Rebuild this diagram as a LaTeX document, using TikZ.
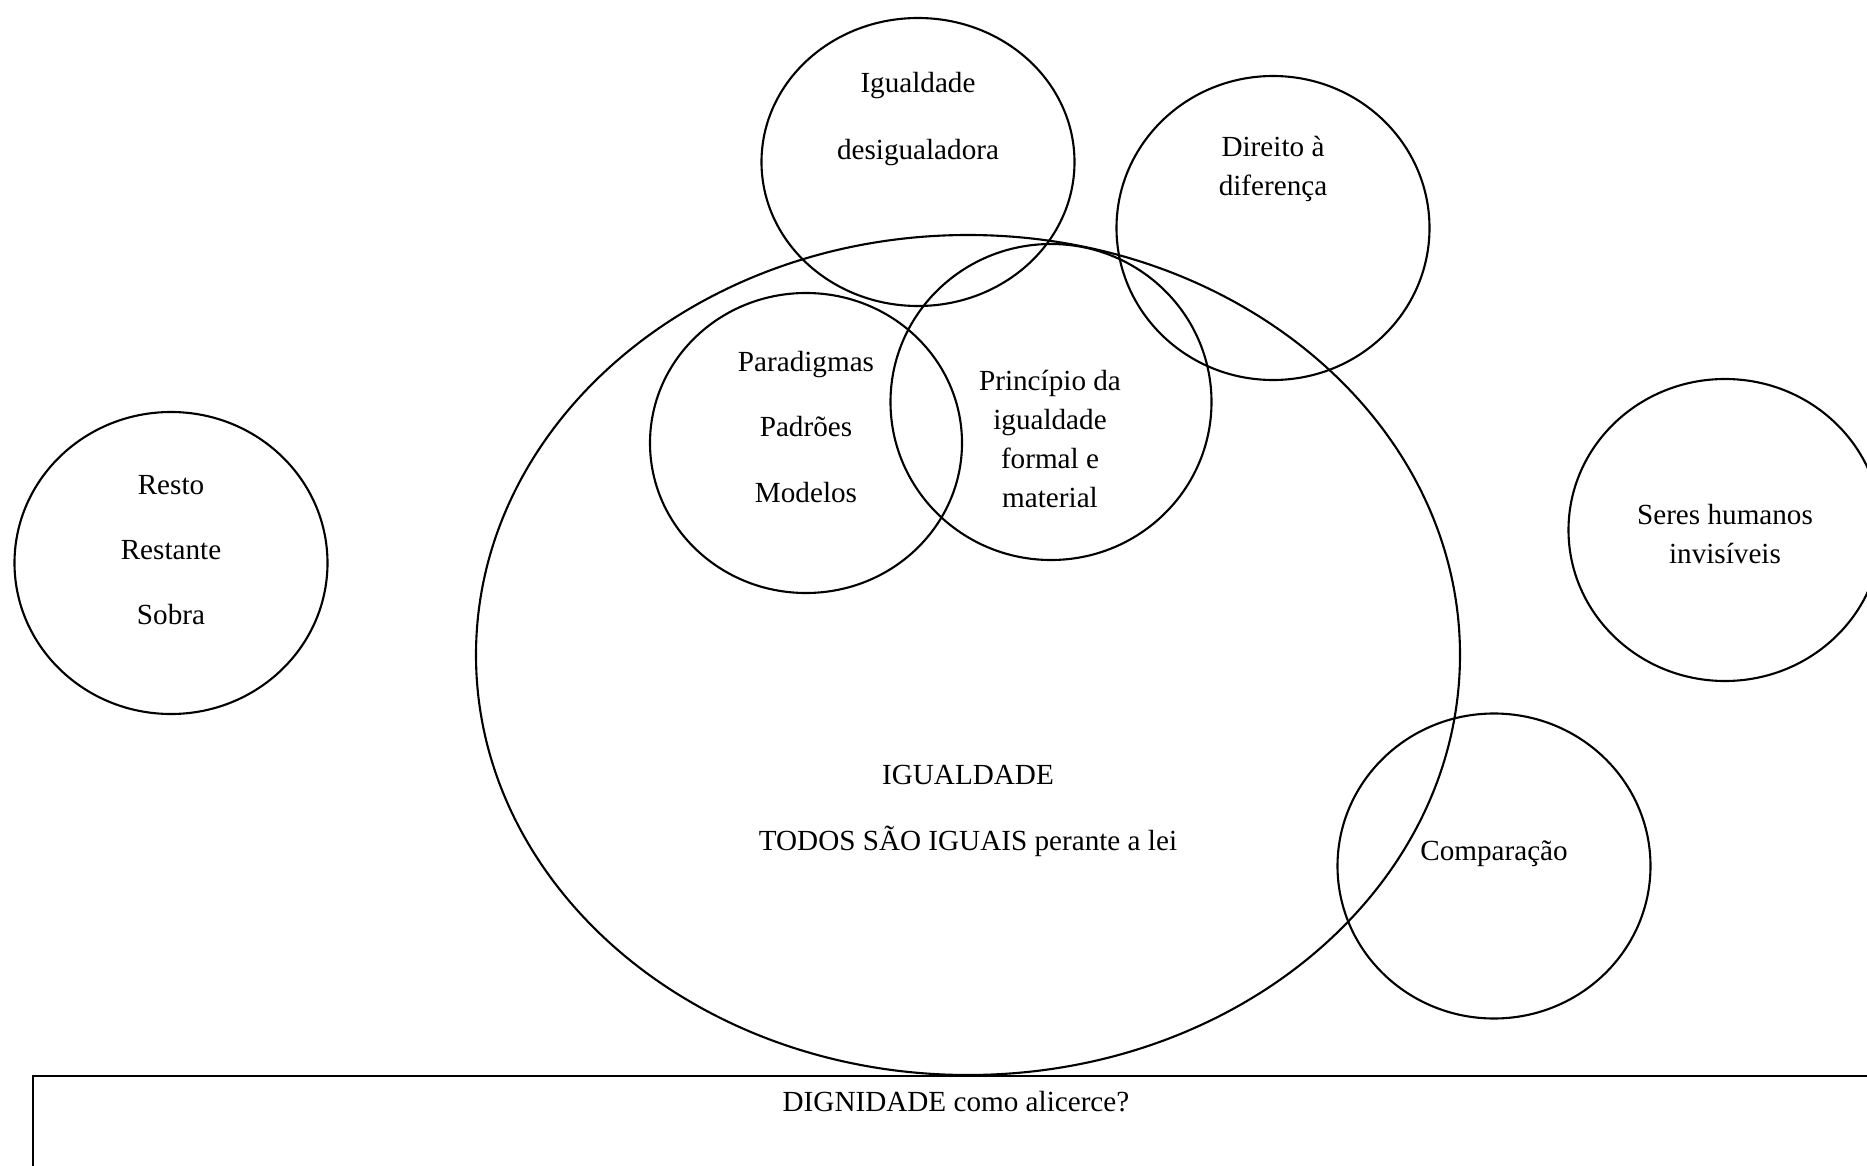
\documentclass[tikz,border=0pt]{standalone}
\usepackage{fontspec}
\setmainfont{Liberation Serif}
\usetikzlibrary{shapes.geometric,positioning}
\tikzset{
  bubble/.style={draw, ellipse, line width=0.6pt, inner sep=0pt, minimum width=3.13cm, minimum height=3.02cm},
  label/.style={align=center, font=\fontsize{8.3}{18.6}\selectfont},
  tight/.style={align=center, font=\fontsize{8.3}{11.1}\selectfont}
}

\begin{document}
\begin{tikzpicture}
\useasboundingbox (0,0) rectangle (18.67,11.65);
% circles
\node[bubble] (resto) at (1.71,6.02) {};
\node[bubble, minimum height=2.88cm] (desig) at (9.18,10.03) {};
\node[bubble, minimum height=3.04cm] (direito) at (12.73,9.37) {};
\node[bubble, minimum width=3.12cm, minimum height=3.00cm] (padroes) at (8.06,7.22) {};
\node[bubble, minimum width=3.21cm, minimum height=3.16cm] (principio) at (10.51,7.63) {};
\node[bubble] (seres) at (17.25,6.35) {};
\node[bubble, minimum height=3.05cm] (compara) at (14.94,2.99) {};
\node[bubble, minimum width=9.84cm, minimum height=8.40cm] (igualdade) at (9.68,5.10) {};
% base
\node[draw, line width=0.6pt, anchor=north west, minimum width=19cm, minimum height=1.5cm] (base) at (0.32,0.90) {};

% texts
\node[label] (restoTxt) at (1.71,6.15) {Resto\\Restante\\Sobra};
\node[label, font=\fontsize{8.3}{19.3}\selectfont] (desigTxt) at (9.18,10.46) {Igualdade\\desigualadora};
\node[tight] (direitoTxt) at (12.73,9.96) {Direito à\\diferença};
\node[label] (padroesTxt) at (8.06,7.38) {Paradigmas\\Padrões\\Modelos};
\node[tight] (principioTxt) at (10.50,7.26) {Princípio da\\igualdade\\formal e\\material};
\node[tight] (seresTxt) at (17.25,6.31) {Seres humanos\\invisíveis};
\node[tight] (comparaTxt) at (14.94,3.11) {Comparação};
\node[label] (igualdadeTxt) at (9.68,3.54) {IGUALDADE\\TODOS SÃO IGUAIS perante a lei};
\node[tight] (baseTxt) at (9.56,0.63) {DIGNIDADE como alicerce?};
\end{tikzpicture}
\end{document}
